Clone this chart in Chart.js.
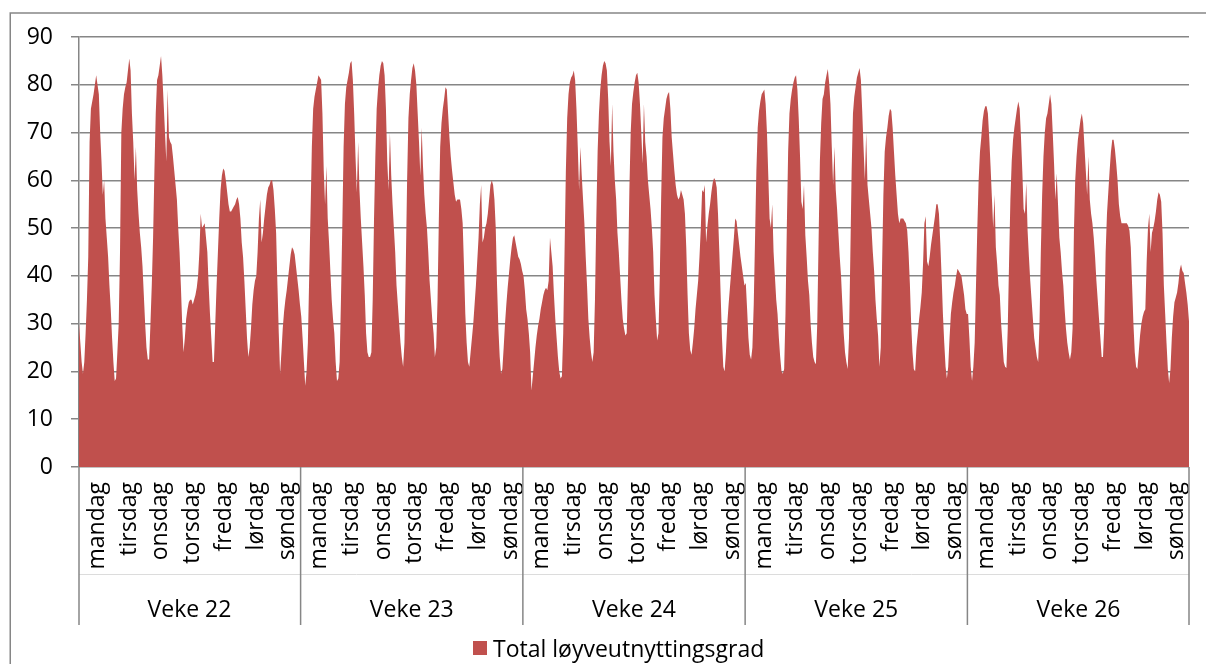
<!DOCTYPE html>
<html>
<head>
<meta charset="utf-8">
<script src="https://cdn.jsdelivr.net/npm/chart.js@4.4.1/dist/chart.umd.min.js"></script>
<style>
  html, body { margin: 0; padding: 0; background: #fff; }
  #wrap { width: 1206px; height: 664px; }
</style>
</head>
<body>
<div id="wrap"><canvas id="chart" width="1206" height="664"></canvas></div>
<script>
const dayNames = ['mandag', 'tirsdag', 'onsdag', 'torsdag', 'fredag', 'lørdag', 'søndag'];
const weekLabels = ['Veke 22', 'Veke 23', 'Veke 24', 'Veke 25', 'Veke 26'];
const seriesLabel = 'Total løyveutnyttingsgrad';
const yTicks = { min: 0, max: 90, step: 10 };

// hourly values (%), one row per day, mandag..søndag
const week22 = [
  30, 26, 22, 19.5, 22, 28, 35, 44, 68, 75, 76.5, 78, 80, 82, 80, 78, 70, 64, 57, 60, 52, 48, 44, 38,
  33, 27, 22, 18, 18.5, 24, 30, 45, 70, 75, 78, 79.5, 80.5, 83, 85.5, 83, 74, 68, 60, 67, 58, 53, 49, 46,
  42, 36, 30, 25, 22.5, 22.5, 30, 38, 48, 62, 74, 81, 82, 84, 86, 82, 76, 70, 64, 79, 69, 68, 67.5, 65,
  62, 59, 56, 50, 45, 38, 30, 24, 27, 31, 33, 34.5, 35, 35, 34, 35, 36, 37.5, 40, 45, 53, 50, 50.5, 51,
  48, 45, 38, 32, 27, 22, 22, 30, 38, 45, 52, 58, 61, 62.5, 62, 60, 57.5, 55, 53.5, 53.5, 54, 54.5, 55, 56,
  56.5, 55, 52, 47, 44, 39, 33, 27, 23, 25, 29, 34, 37, 39, 40, 45, 52, 56, 47, 49, 52, 54.5, 57, 58.5,
  59, 60, 60, 58, 54, 49, 38, 28, 19.5, 24, 29, 32.5, 35, 37, 39.5, 42, 44.5, 46, 45.5, 44.5, 42, 39.5, 37, 34
];
const week23 = [
  31.5, 27, 22, 17, 20, 26, 40, 53, 67, 75, 77.5, 79, 80.5, 82, 81.5, 81, 74, 62, 55, 63, 52, 47, 41, 35,
  31, 28, 22, 18, 18.5, 22, 35, 50, 67, 76, 79.5, 81, 82.5, 84.5, 85, 81, 74, 65, 57.5, 68, 58, 52, 47, 42,
  36, 28, 24, 23, 23, 24, 35, 52, 65, 75, 79, 82, 84, 85, 84.5, 82, 75, 64, 58, 70, 61, 55, 50, 45,
  38, 34, 30, 26, 23, 21, 26, 42, 60, 73, 78, 81, 83.5, 84.5, 83, 80, 74, 68, 61, 71, 63, 57, 53, 50,
  45, 39, 35, 31, 28, 23, 25, 35, 52, 67, 72, 75, 77, 79.5, 79, 74, 69, 65, 62, 59.5, 57, 55.5, 56, 56,
  56, 54, 51, 42, 32, 26, 22, 21, 24, 27, 30, 34, 38, 43, 48, 55, 59, 47, 48, 50, 51, 53, 56, 59,
  60, 59, 56, 50, 38, 29, 23, 19.5, 20.5, 25, 30, 34, 37.5, 40.5, 43.5, 46, 48, 48.5, 47, 45.5, 44, 43.5, 42.5, 41
];
const week24 = [
  40, 37, 33, 31, 28, 24, 16, 19, 22, 25, 27.5, 29.5, 31, 33, 34.5, 36, 37, 37.5, 37, 39, 48, 45, 42, 36,
  31, 27, 23, 20, 18.5, 19, 28, 45, 62, 73, 78, 80.5, 81.5, 82, 83, 81, 75, 67, 58, 67, 61, 56, 51, 44,
  38, 31, 27, 24, 22, 24, 35, 52, 66, 74, 79, 82, 84, 85, 84.5, 83, 77, 68, 63, 76, 66, 60, 56, 49,
  45, 40, 35, 31, 29, 27.5, 28, 40, 58, 70, 76, 78.5, 80.5, 82, 82.5, 80.5, 76, 70, 63.5, 76, 68, 65, 60, 57,
  54, 50, 45, 36, 31, 26.5, 28, 40, 56, 69, 73, 75, 77, 78, 78.5, 75, 69, 65.5, 62, 59, 57, 56, 56.5, 58,
  57, 56, 53, 46, 36, 28, 24.5, 23.5, 26, 29, 33, 36, 39, 44, 50, 58, 57.5, 59, 47, 50.5, 53, 55, 57.5, 59.5,
  60.5, 60, 58.5, 53, 45, 36, 27, 21, 20, 24, 30, 34, 37.5, 41, 44.5, 48, 52, 51.5, 49, 46.5, 44, 42, 40, 38
];
const week25 = [
  38.5, 33, 27, 23.5, 22.5, 25, 34, 48, 62, 71, 74.5, 76.5, 78, 78.5, 79, 76, 70, 61, 52, 50, 55, 45, 40, 35,
  32, 27, 23, 20, 19.5, 20.5, 32, 50, 66, 74, 77, 79, 80.5, 81.5, 82, 79, 73, 65, 55.5, 54, 59, 48.5, 44, 39,
  36, 30, 26, 23, 22, 21.5, 30, 47, 64, 72, 77, 78, 80.5, 82, 83.3, 80.5, 76, 67, 59, 67, 58, 54, 49, 44,
  40, 34, 28, 24, 22, 20.5, 27, 44, 62, 74, 77.5, 79.5, 81.5, 82.5, 83.5, 81, 74.5, 67, 60, 70, 59, 56, 53, 50,
  45, 41, 35, 31, 27.5, 21, 25, 42, 57, 66, 69, 71, 73.5, 75, 74.5, 71, 66, 61, 57, 53, 51, 52, 52, 52,
  51.5, 51, 49.5, 45, 38.5, 30, 24, 20.5, 20, 25, 28, 31, 33.5, 36.5, 42.7, 51, 52.5, 43, 42, 44, 46.5, 48.5, 50.5, 52.5,
  55, 55, 53, 47, 40, 32, 26, 21, 18.5, 21, 27, 32, 34.5, 36.5, 38, 40, 41.5, 41, 40.5, 40, 38, 36, 33, 32
];
const week26 = [
  32, 27, 21, 18, 21, 26, 38, 50, 60, 66, 69, 72.5, 74.5, 75.5, 75.5, 74, 69, 63, 56.5, 50, 57, 46, 42.5, 38,
  36, 30, 26, 22, 21, 20.7, 29, 43, 56, 64, 68.5, 71, 73, 75, 76.5, 75, 69, 62, 54, 53, 59.5, 49.5, 44, 39,
  35, 31, 27, 25, 23, 22, 30, 45, 57, 65, 70, 73, 74, 76, 78, 76, 70, 63.5, 56, 61.5, 55, 48, 45, 41,
  38, 33, 29, 26, 24, 22.5, 24, 29, 49, 60, 65, 68.5, 70.6, 72.7, 74, 72, 67, 62, 57, 65, 56, 53, 51, 48,
  44, 39, 35, 31, 27, 23, 23, 30, 45, 53, 57.5, 62, 66, 68.5, 68.5, 66.5, 63.5, 60, 55, 52.5, 51, 51, 51, 51,
  51, 50.5, 49.5, 46, 38, 30, 24, 21, 20.5, 24, 27.5, 30, 31.5, 32.5, 33, 43, 50, 53, 45, 49, 50, 51.5, 53.5, 56,
  57.5, 57, 55.5, 49, 38, 32, 26, 20.5, 17.6, 20.5, 27, 31.5, 34.5, 35.5, 36.5, 38.5, 41.3, 42.4, 41, 40.6, 38.5, 36.5, 34, 30.5
];

const FONT = "'Open Sans', sans-serif";
const RED = '#C0504D';
const GREY = '#868686';

const values = [].concat(week22, week23, week24, week25, week26);
const points = values.map((v, i) => ({ x: i, y: v }));
const lastIndex = values.length - 1;
const hoursPerWeek = 24 * 7;

// one tick in the middle of every day
const dayCenters = [];
for (let d = 0; d < weekLabels.length * 7; d++) {
	dayCenters.push(d * 24 + 11.5);
}

const extras = {
	id: 'extras',
	beforeDraw(chart) {
		const ctx = chart.ctx;
		ctx.save();
		ctx.fillStyle = '#fff';
		ctx.fillRect(0, 0, chart.width, chart.height);
		// outer frame (only top and left edges are inside the picture)
		ctx.strokeStyle = GREY;
		ctx.lineWidth = 1.5;
		ctx.beginPath();
		ctx.moveTo(10.25, chart.height);
		ctx.lineTo(10.25, 13);
		ctx.lineTo(chart.width, 13);
		ctx.stroke();
		ctx.restore();
	},
	afterDraw(chart) {
		const { ctx, chartArea } = chart;
		const x = chart.scales.x;
		const bottom = chartArea.bottom;
		ctx.save();

		// faint line between day and week rows
		ctx.strokeStyle = '#dcdcdc';
		ctx.lineWidth = 1;
		ctx.beginPath();
		ctx.moveTo(chartArea.left, 574.5);
		ctx.lineTo(chartArea.right, 574.5);
		ctx.stroke();

		// week separators
		ctx.strokeStyle = GREY;
		ctx.lineWidth = 1.5;
		for (let w = 0; w <= weekLabels.length; w++) {
			let v = Math.min(Math.max(w * hoursPerWeek - 0.5, 0), lastIndex);
			let px = x.getPixelForValue(v);
			ctx.beginPath();
			ctx.moveTo(px, bottom);
			ctx.lineTo(px, 625);
			ctx.stroke();
		}

		// week labels
		ctx.fillStyle = '#000';
		ctx.font = '23px ' + FONT;
		ctx.textAlign = 'center';
		ctx.textBaseline = 'alphabetic';
		weekLabels.forEach((label, w) => {
			let px = x.getPixelForValue(w * hoursPerWeek + hoursPerWeek / 2 - 0.5);
			ctx.fillText(label, px, 617);
		});

		// legend
		ctx.fillStyle = RED;
		ctx.fillRect(473, 641, 14, 14);
		ctx.fillStyle = '#000';
		ctx.textAlign = 'left';
		ctx.fillText(chart.data.datasets[0].label, 493, 657);

		ctx.restore();
	}
};

new Chart(document.getElementById('chart'), {
	type: 'line',
	data: {
		datasets: [
			{
				label: seriesLabel,
				data: points,
				fill: 'origin',
				backgroundColor: RED,
				borderColor: RED,
				borderWidth: 0,
				pointRadius: 0,
				tension: 0
			}
		]
	},
	options: {
		responsive: false,
		animation: false,
		devicePixelRatio: 1,
		layout: { padding: { left: 0, right: 17, top: 37, bottom: 0 } },
		plugins: {
			legend: { display: false },
			tooltip: { enabled: false }
		},
		scales: {
			x: {
				type: 'linear',
				min: 0,
				max: lastIndex,
				grid: { display: false, drawTicks: false },
				border: { display: false },
				afterBuildTicks: (scale) => {
					scale.ticks = dayCenters.map((v) => ({ value: v }));
				},
				afterFit: (scale) => {
					scale.height = 197;
					scale.paddingLeft = 0;
					scale.paddingRight = 0;
				},
				ticks: {
					autoSkip: false,
					minRotation: 90,
					maxRotation: 90,
					padding: 15,
					labelOffset: 3,
					color: '#000',
					font: { family: FONT, size: 23 },
					callback: (value, index) => dayNames[index % 7]
				}
			},
			y: {
				min: yTicks.min,
				max: yTicks.max,
				afterFit: (scale) => {
					scale.width = 79;
				},
				ticks: {
					stepSize: yTicks.step,
					padding: 18,
					color: '#000',
					font: { family: FONT, size: 23 }
				},
				grid: {
					color: GREY,
					lineWidth: 1.5,
					tickLength: 8
				},
				border: { display: true, color: GREY, width: 1.5 }
			}
		}
	},
	plugins: [extras]
});
</script>
</body>
</html>
